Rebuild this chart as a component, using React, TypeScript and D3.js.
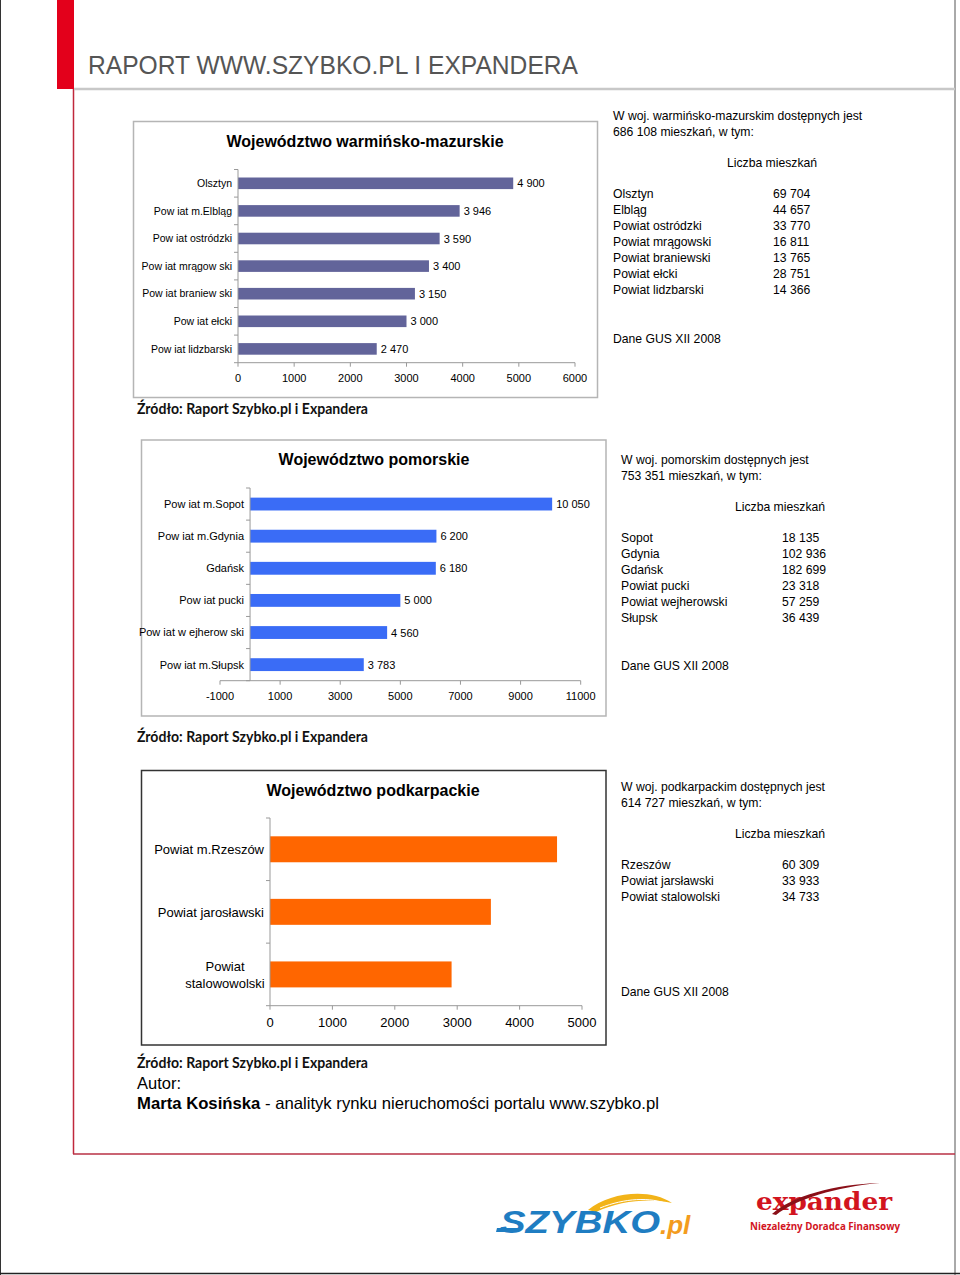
import * as d3 from 'd3';

// --- data ---
const warmCategories = [
  'Olsztyn',
  'Pow iat m.Elbląg',
  'Pow iat ostródzki',
  'Pow iat mrągow ski',
  'Pow iat braniew ski',
  'Pow iat ełcki',
  'Pow iat lidzbarski',
];
const warmValues = [4900, 3946, 3590, 3400, 3150, 3000, 2470];
const warmTicks = [0, 1000, 2000, 3000, 4000, 5000, 6000];

const pomCategories = [
  'Pow iat m.Sopot',
  'Pow iat m.Gdynia',
  'Gdańsk',
  'Pow iat pucki',
  'Pow iat w ejherow ski',
  'Pow iat m.Słupsk',
];
const pomValues = [10050, 6200, 6180, 5000, 4560, 3783];
const pomTicks = [-1000, 1000, 3000, 5000, 7000, 9000, 11000];

const podkCategories = ['Powiat m.Rzeszów', 'Powiat jarosławski', 'Powiat stalowowolski'];
const podkValues = [4600, 3540, 2910];
const podkTicks = [0, 1000, 2000, 3000, 4000, 5000];

const warmRows = [
  'Olsztyn',
  'Elbląg',
  'Powiat ostródzki',
  'Powiat mrągowski',
  'Powiat braniewski',
  'Powiat ełcki',
  'Powiat lidzbarski',
];
const warmCounts = [69704, 44657, 33770, 16811, 13765, 28751, 14366];

const pomRows = ['Sopot', 'Gdynia', 'Gdańsk', 'Powiat pucki', 'Powiat wejherowski', 'Słupsk'];
const pomCounts = [18135, 102936, 182699, 23318, 57259, 36439];

const podkRows = ['Rzeszów', 'Powiat jarsławski', 'Powiat stalowolski'];
const podkCounts = [60309, 33933, 34733];

const pl = d3.formatLocale({ decimal: ',', thousands: ' ', grouping: [3], currency: ['', ' zł'] });
const fmt = pl.format(',');

const ARIAL = '"Liberation Sans", Arial, sans-serif';

type ChartProps = {
  title: string;
  titleX: number;
  titleY: number;
  categories: string[];
  values: number[];
  ticks: number[];
  frame: [number, number, number, number];
  frameStroke: string;
  x0: number;
  x1: number;
  y0: number;
  y1: number;
  color: string;
  padding: number;
  labelSize: number;
  tickSize: number;
  showValues: boolean;
};

function BarChart(p: ChartProps) {
  const domain = d3.extent(p.ticks) as [number, number];
  const x = d3.scaleLinear().domain(domain).range([p.x0, p.x1]);
  const y = d3
    .scaleBand()
    .domain(p.categories)
    .range([p.y0, p.y1])
    .paddingInner(p.padding)
    .paddingOuter(p.padding / 2);
  const zero = x(Math.max(0, domain[0]));
  const step = y.step();
  const labelX = zero - 6;

  return (
    <g fontFamily={ARIAL}>
      <rect
        x={p.frame[0]}
        y={p.frame[1]}
        width={p.frame[2]}
        height={p.frame[3]}
        fill="#fff"
        stroke={p.frameStroke}
        strokeWidth={1.5}
      />
      <text x={p.titleX} y={p.titleY} textAnchor="middle" fontSize={16} fontWeight="bold" fill="#000">
        {p.title}
      </text>
      {p.categories.map((c, i) => {
        const cy = (y(c) ?? 0) + y.bandwidth() / 2;
        const words = c.split(' ');
        const wrap = c.length > 19 && words.length === 2;
        return (
          <g key={c}>
            <rect
              x={zero}
              y={y(c)}
              width={x(p.values[i]) - zero}
              height={y.bandwidth()}
              fill={p.color}
            />
            {wrap ? (
              <text textAnchor="middle" fontSize={p.labelSize} fill="#000">
                <tspan x={labelX - 39} y={cy - 3}>
                  {words[0]}
                </tspan>
                <tspan x={labelX - 39} y={cy + 14}>
                  {words[1]}
                </tspan>
              </text>
            ) : (
              <text x={labelX} y={cy + p.labelSize * 0.36} textAnchor="end" fontSize={p.labelSize} fill="#000">
                {c}
              </text>
            )}
            {p.showValues && (
              <text x={x(p.values[i]) + 4} y={cy + 4} fontSize={11} fill="#000">
                {fmt(p.values[i])}
              </text>
            )}
          </g>
        );
      })}
      {/* category axis */}
      <line x1={zero} x2={zero} y1={p.y0} y2={p.y1} stroke="#999" />
      {d3.range(p.categories.length + 1).map((i) => (
        <line key={i} x1={zero - 4} x2={zero} y1={p.y0 + i * step} y2={p.y0 + i * step} stroke="#999" />
      ))}
      {/* value axis */}
      <line x1={p.x0} x2={p.x1} y1={p.y1} y2={p.y1} stroke="#999" />
      {p.ticks.map((t) => (
        <g key={t}>
          <line x1={x(t)} x2={x(t)} y1={p.y1} y2={p.y1 + 4} stroke="#999" />
          <text x={x(t)} y={p.y1 + 4 + p.tickSize * 1.36} textAnchor="middle" fontSize={p.tickSize} fill="#000">
            {t}
          </text>
        </g>
      ))}
    </g>
  );
}

type InfoProps = {
  x: number;
  y: number;
  intro: string[];
  rows: string[];
  counts: number[];
  valueX: number;
  dataY: number;
};

function InfoBlock({ x, y, intro, rows, counts, valueX, dataY }: InfoProps) {
  return (
    <g fontFamily={ARIAL} fontSize={12.2} fill="#000">
      {intro.map((t, i) => (
        <text key={t} x={x} y={y + i * 16}>
          {t}
        </text>
      ))}
      <text x={x + 114} y={y + 47}>
        Liczba mieszkań
      </text>
      {rows.map((r, i) => (
        <g key={r}>
          <text x={x} y={y + 78 + i * 16}>
            {r}
          </text>
          <text x={valueX} y={y + 78 + i * 16}>
            {fmt(counts[i])}
          </text>
        </g>
      ))}
      <text x={x} y={dataY}>
        Dane GUS XII 2008
      </text>
    </g>
  );
}

function Source({ y }: { y: number }) {
  return (
    <text
      x={137}
      y={y}
      fontFamily='Lato, "Open Sans", sans-serif'
      fontWeight="bold"
      fontSize={14.5}
      textLength={231}
      lengthAdjust="spacingAndGlyphs"
      fill="#111"
    >
      Źródło: Raport Szybko.pl i Expandera
    </text>
  );
}

export default function App() {
  return (
    <svg
      width={960}
      height={1275}
      style={{ position: 'absolute', left: 0, top: 0, background: '#fff' }}
    >
      {/* page frame */}
      <line x1={0.5} x2={0.5} y1={0} y2={1275} stroke="#333" />
      <line x1={955} x2={955} y1={0} y2={1275} stroke="#555" />
      <line x1={0} x2={960} y1={1273.5} y2={1273.5} stroke="#222" strokeWidth={1.5} />
      <rect x={57} y={0} width={17} height={89} fill="#e3001b" />
      <line x1={73.5} x2={73.5} y1={89} y2={1154} stroke="#c0283c" strokeWidth={1.5} />
      <line x1={73} x2={955} y1={1154} y2={1154} stroke="#b83044" strokeWidth={1.5} />
      <line x1={74} x2={955} y1={89} y2={89} stroke="#c8c8c8" strokeWidth={2.5} />
      <text
        x={88}
        y={74}
        fontFamily='"Liberation Sans Narrow", "Liberation Sans", Arial, sans-serif'
        fontSize={25}
        textLength={490}
        lengthAdjust="spacingAndGlyphs"
        fill="#555"
      >
        RAPORT WWW.SZYBKO.PL I EXPANDERA
      </text>

      <BarChart
        title="Województwo warmińsko-mazurskie"
        titleX={365}
        titleY={147}
        categories={warmCategories}
        values={warmValues}
        ticks={warmTicks}
        frame={[133.5, 121.5, 464, 276]}
        frameStroke="#b5b5b5"
        x0={238}
        x1={575}
        y0={169.5}
        y1={362.7}
        color="#62649a"
        padding={0.58}
        labelSize={10.5}
        tickSize={11}
        showValues
      />
      <InfoBlock
        x={613}
        y={120}
        intro={['W woj. warmińsko-mazurskim dostępnych jest', '686 108 mieszkań, w tym:']}
        rows={warmRows}
        counts={warmCounts}
        valueX={773}
        dataY={343}
      />
      <Source y={414} />

      <BarChart
        title="Województwo pomorskie"
        titleX={374}
        titleY={465}
        categories={pomCategories}
        values={pomValues}
        ticks={pomTicks}
        frame={[141.5, 440, 464.5, 276]}
        frameStroke="#b5b5b5"
        x0={220}
        x1={580.7}
        y0={488}
        y1={680.7}
        color="#3a6cf6"
        padding={0.6}
        labelSize={11}
        tickSize={11}
        showValues
      />
      <InfoBlock
        x={621}
        y={464}
        intro={['W woj. pomorskim dostępnych jest', '753 351 mieszkań, w tym:']}
        rows={pomRows}
        counts={pomCounts}
        valueX={782}
        dataY={670}
      />
      <Source y={742} />

      <BarChart
        title="Województwo podkarpackie"
        titleX={373}
        titleY={796}
        categories={podkCategories}
        values={podkValues}
        ticks={podkTicks}
        frame={[141.5, 770.5, 464.5, 274.5]}
        frameStroke="#333"
        x0={270}
        x1={582}
        y0={818}
        y1={1005.7}
        color="#ff6600"
        padding={0.585}
        labelSize={13}
        tickSize={13}
        showValues={false}
      />
      <InfoBlock
        x={621}
        y={791}
        intro={['W woj. podkarpackim dostępnych jest', '614 727 mieszkań, w tym:']}
        rows={podkRows}
        counts={podkCounts}
        valueX={782}
        dataY={996}
      />
      <Source y={1068} />

      <text x={137} y={1089} fontFamily={ARIAL} fontSize={16.5} fill="#000">
        Autor:
      </text>
      <text
        x={137}
        y={1109}
        fontFamily={ARIAL}
        fontSize={16.5}
        textLength={522}
        lengthAdjust="spacingAndGlyphs"
        fill="#000"
      >
        <tspan fontWeight="bold">Marta Kosińska</tspan> - analityk rynku nieruchomości portalu www.szybko.pl
      </text>

      {/* SZYBKO.pl logo */}
      <g>
        <path d="M588 1210 C 610 1192, 650 1188, 672 1203 C 652 1198, 620 1200, 596 1212 Z" fill="#f2b318" />
        <path d="M600 1208 C 625 1198, 650 1197, 668 1204" stroke="#fff" strokeWidth={1} fill="none" />
        <text
          x={500}
          y={1233}
          fontFamily='"Liberation Sans", Arial, sans-serif'
          fontWeight="bold"
          fontStyle="italic"
          fontSize={32}
          textLength={160}
          lengthAdjust="spacingAndGlyphs"
          fill="#1f7dc2"
        >
          SZYBKO
        </text>
        <path d="M497 1228 L 520 1228 L 518 1232 L 496 1232 Z" fill="#1f7dc2" />
        <text
          x={660}
          y={1234}
          fontFamily='"Liberation Sans", Arial, sans-serif'
          fontWeight="bold"
          fontStyle="italic"
          fontSize={26}
          fill="#f39c1e"
        >
          .pl
        </text>
      </g>

      {/* expander logo */}
      <g>
        <text
          x={756}
          y={1210}
          fontFamily='"DejaVu Serif", serif'
          fontWeight="bold"
          fontSize={24}
          textLength={136}
          lengthAdjust="spacingAndGlyphs"
          fill="#d2141e"
        >
          expander
        </text>
        <path d="M772 1214 C 792 1196, 835 1184, 880 1183 C 836 1187, 796 1199, 776 1215 Z" fill="#8a0f18" />
        <text
          x={750}
          y={1230}
          fontFamily='"Open Sans", sans-serif'
          fontWeight="bold"
          fontSize={10}
          textLength={150}
          lengthAdjust="spacingAndGlyphs"
          fill="#d2141e"
        >
          Niezależny Doradca Finansowy
        </text>
      </g>
    </svg>
  );
}
